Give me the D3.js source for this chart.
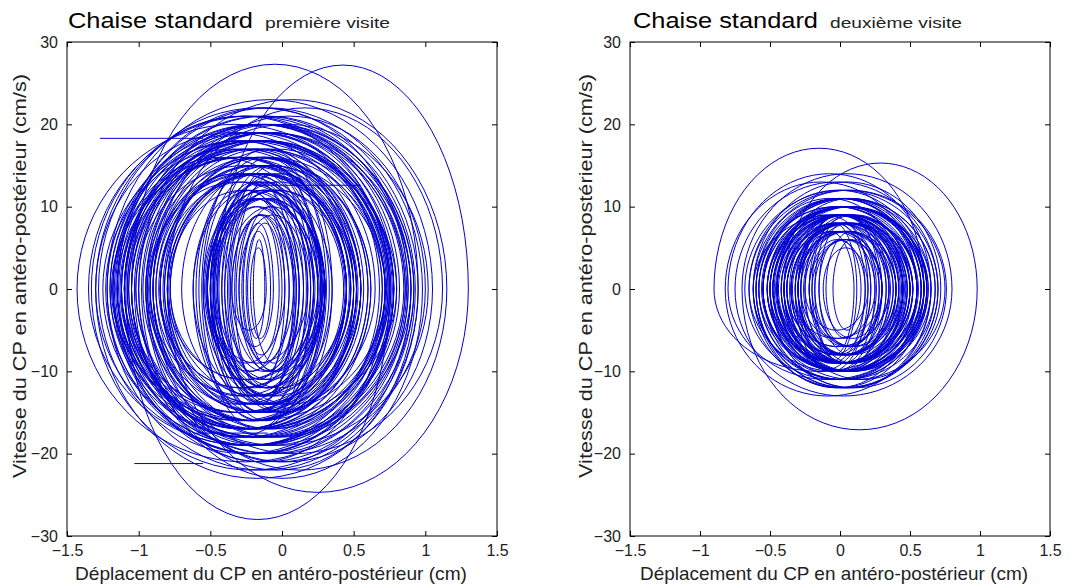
<!DOCTYPE html>
<html><head><meta charset="utf-8">
<script src="https://cdn.jsdelivr.net/npm/d3@7"></script>
<style>
body{margin:0;background:#fff;}
text{font-family:"Liberation Sans",Arial,sans-serif;}
</style></head>
<body><svg id="c" width="1078" height="588"></svg>
<script>
// ---------- data ----------
const xTicks = [-1.5,-1,-0.5,0,0.5,1,1.5];
const yTicks = [-30,-20,-10,0,10,20,30];
const titles = ["Chaise standard","Chaise standard"];
const subtitles = ["première visite","deuxième visite"];
const xLabel = "Déplacement du CP en antéro-postérieur (cm)";
const yLabel = "Vitesse du CP en antéro-postérieur (cm/s)";

// left panel: successive turning positions (cm), alternating left/right extreme
const leftTurnX = [
-1.10,0.52,-0.92,0.75,-1.15,0.88,-1.05,0.95,-1.30,0.75,-1.09,0.78,-0.90,0.50,-0.50,0.25,
-0.48,0.10,-0.30,-0.02,-0.27,-0.06,-0.32,0.02,-0.52,0.27,-0.85,0.48,-1.12,0.72,-1.20,0.85,
-1.35,0.92,-1.43,0.77,-1.18,0.55,-1.08,0.45,-0.92,0.28,-0.80,0.50,-0.45,1.30,-0.80,1.12,
-0.95,1.02,-1.07,0.90,-1.15,0.80,-1.19,0.72,-0.94,0.52,-0.52,0.28,-0.45,0.12,-0.25,-0.08,
-0.22,-0.11,-0.35,0.08,-0.54,0.30,-0.88,0.55,-1.12,0.76,-1.28,0.95,-1.22,1.05,-1.00,1.15,
-0.90,1.00,-1.10,0.86,-1.25,0.72,-1.02,0.50,-0.82,0.45,-0.78,0.62,-0.50,0.43,-0.47,0.22,
-0.30,0.18,-0.53,0.30,-0.86,0.55,-1.10,0.75,-1.18,0.87,-1.05,0.72,-0.85,0.45,-0.62,0.22,
-0.48,0.29,-0.80,0.48,-1.07,0.70,-1.20,0.78,-1.15,0.93,-1.00,0.90,-0.94,0.74,-1.10,0.55,
-0.90,0.28,-0.55,0.15,-0.40,0.25,-0.78,0.52,-1.13,0.78,-1.30,0.60,-1.05,0.45,-0.85,0.30,
-0.50,0.45,-0.92,0.72,-1.03,0.50,-0.95,0.62,-1.15,0.88,-1.22,0.70,-0.88,0.35,-0.52,0.20,
-0.35,0.05,-0.28,0.12,-0.50,0.47,-0.82,0.74,-1.08,0.92,-1.16,0.98,-0.98,0.80,-1.23,0.53,
-0.93,0.30,-0.49,0.45,-0.83,0.57,-1.12,0.76,-1.05,0.86,-0.90,0.65,-1.18,0.48,-0.79,0.26,
-0.46,0.09,-0.20,-0.12,-0.24,0.00,-0.42,0.30,-0.70,0.55,-0.97,0.73,-1.14,0.90,-1.33,0.82,
-1.10,0.52,-0.80,0.44,-0.53,0.23,-0.85,0.60,-1.02,0.78,-1.17,0.30,-0.55,0.18,-0.42,0.08,
-0.38,0.25,-0.58,0.33,-0.47,0.15,-0.36,0.02,-0.33,0.22,-0.60,0.28,-0.50,0.12,-0.40,0.20,
-0.56,0.35,-0.62,0.10,-0.44,0.27,-0.52,0.05,-0.37,0.17,-0.48,0.31,-0.95,0.68,-1.12];
// left panel: peak speed (cm/s) of each half-cycle between consecutive turning positions
const leftPeakV = [
18,16,19,17,22,20,27.3,23,21,28,20,18,17,15,13,12,
11,10,9,8,8,7,9,9,12,12,15,15,18,17,20,19,
21,21,20,20,18,17,16,16,14,14,14,15,27.2,24.7,22,20,
20,19,19,18,17,16,16,15,14,14,12,11,10,10,7,6,
5,5,9,10,12,13,16,17,19,20,22,22,23,21,23,22,
21,20,20,19,18,17,15,14,14,13,15,14,12,12,11,10,
9,9,11,12,15,15,18,18,20,19,18,17,15,14,12,11,
11,11,14,15,17,18,19,20,21,22,20,21,18,17,17,16,
14,13,11,10,10,11,14,16,18,19,19,17,16,14,13,12,
12,13,16,21,17,16,16,18,21,20,19,17,14,13,11,10,
9,9,10,12,14,15,17,18,20,21,22,23,19,19,17,16,
13,14,13,15,16,17,18,19,19,18,17,16,16,14,12,12,
10,9,6,6,8,10,12,13,15,16,18,19,20,22,21,18,
16,15,14,13,11,14,16,17,18,20,16,15,14,13,13,14,
15,16,16,14,13,12,11,12,14,15,15,16,13,13,14,17,
17,16,12,14,15,15,12,11,13,15,16,18,19,19];
// left panel: straight jumps in the record [x start, x end, velocity]
const leftJumpX0 = [-1.27,-1.03,-0.60,-0.20];
const leftJumpX1 = [-0.55,-0.55,-0.10,0.55];
const leftJumpV  = [18.3,-21.2,-17.5,12.6];

// right panel
const rightTurnX = [
-0.50,0.55,-0.45,0.60,-0.90,0.60,-0.62,0.72,-0.40,0.98,-0.70,0.80,-0.75,0.70,-0.65,0.75,
-0.55,0.65,-0.48,0.55,-0.40,0.45,-0.30,0.40,-0.20,0.30,-0.12,0.20,-0.25,0.35,-0.38,0.50,
-0.50,0.62,-0.58,0.58,-0.45,0.48,-0.35,0.42,-0.42,0.55,-0.52,0.63,-0.80,0.65,-0.82,0.55,
-0.60,0.45,-0.45,0.38,-0.30,0.30,-0.18,0.25,-0.28,0.40,-0.40,0.52,-0.48,0.60,-0.55,0.68,
-0.62,0.76,-0.55,0.60,-0.42,0.50,-0.35,0.45,-0.45,0.55,-0.52,0.50,-0.40,0.40,-0.30,0.35,
-0.38,0.47,-0.50,0.58,-0.65,0.62,-0.58,0.52,-0.45,0.45,-0.35,0.52,-0.48,0.62,-0.55,0.55,
-0.42,0.42,-0.32,0.38,-0.22,0.30,-0.35,0.48,-0.52,0.60,-0.68,0.70,-0.60,0.58,-0.45,0.62,
-0.52,0.50,-0.38,0.28,-0.15,0.15,-0.05,0.22,-0.32,0.42,-0.47,0.58,-0.58,0.65,-0.50,0.48,
-0.40,0.36,-0.26,0.44,-0.46,0.56,-0.55,0.63,-0.62,0.52,-0.44,0.40,-0.34,0.30,-0.22,0.18,
-0.10,0.26,-0.30,0.46,-0.48,0.60,-0.56,0.68,-0.60,0.55,-0.50,0.43,-0.38,0.33,-0.28,0.50,
-0.45,0.25,-0.20,0.12,-0.28,0.30,-0.15,0.20,-0.32,0.35,-0.25,0.10,-0.18,0.28,-0.36,0.40,
-0.22,0.18,-0.30,0.33,-0.40,0.45,-0.30,0.22,-0.50];
const rightPeakV = [
10,9,11,10,17.1,12,13,11,15.3,17.1,14,13,13,12,12,11,
10,10,9,9,8,8,7,7,6,6,5,5,7,7,8,9,
10,10,11,10,9,9,8,8,9,9,10,11,14,13,13,12,
11,10,9,8,7,7,6,6,7,8,9,9,10,10,11,11,
12,12,11,10,9,9,8,8,9,10,10,9,8,8,7,7,
8,9,10,10,12,11,10,10,9,9,8,9,10,10,11,10,
9,8,7,7,6,6,8,9,10,11,12,12,11,10,10,10,
9,9,7,7,6,5,6,8,8,10,10,11,11,12,9,10,
8,8,8,9,9,10,10,11,9,9,8,8,7,7,6,6,
7,8,9,10,10,10,11,12,10,10,9,9,8,8,9,9,
9,9,8,9,9,8,8,10,9,9,7,8,9,10,9,9,
8,9,9,10,9,9,8,10];

// ---------- drawing ----------
const svg = d3.select("#c");
const panels = [
  {x0:67, x1:497, turns:leftTurnX, peaks:leftPeakV, jx0:leftJumpX0, jx1:leftJumpX1, jv:leftJumpV,
   tx:68, tw:185, sx:265, sw:125, sub:0, ylx:26, xlc:271, xlw:392},
  {x0:630, x1:1050, turns:rightTurnX, peaks:rightPeakV, jx0:[], jx1:[], jv:[],
   tx:633, tw:185, sx:830, sw:132, sub:1, ylx:592, xlc:834, xlw:388}
];
const yTop = 42, yBottom = 536, tickLen = 5;
const lineColor = "#0000d0";

panels.forEach((p,i)=>{
  const x = d3.scaleLinear().domain([-1.5,1.5]).range([p.x0,p.x1]);
  const y = d3.scaleLinear().domain([-30,30]).range([yBottom,yTop]);
  const g = svg.append("g");

  const pts = [];
  const nHalf = Math.min(p.turns.length-1, p.peaks.length);
  for(let k=0;k<nHalf;k++){
    const a=p.turns[k], b=p.turns[k+1];
    const v = p.peaks[k]*(b>a?1:-1);
    const n=40;
    for(let j=(k===0?0:1);j<=n;j++){
      const t=Math.PI*j/n;
      pts.push([(a+b)/2-(b-a)/2*Math.cos(t), v*Math.sin(t)]);
    }
  }
  const line = d3.line().x(d=>x(d[0])).y(d=>y(d[1]));
  g.append("path").attr("d",line(pts)).attr("fill","none")
    .attr("stroke",lineColor).attr("stroke-width",1);
  p.jv.forEach((v,k)=>{
    g.append("path").attr("d",line([[p.jx0[k],v],[p.jx1[k],v]]))
     .attr("fill","none").attr("stroke",lineColor).attr("stroke-width",1);
  });

  g.append("rect").attr("x",p.x0).attr("y",yTop).attr("width",p.x1-p.x0).attr("height",yBottom-yTop)
    .attr("fill","none").attr("stroke","#000").attr("stroke-width",1);

  const ax = (gen,tr)=>{ const a=g.append("g").attr("transform",tr).call(gen);
    a.select(".domain").remove(); a.selectAll("text").attr("fill","#222").style("font-size","16px");
    a.selectAll("line").attr("stroke","#000"); return a; };
  ax(d3.axisBottom(x).tickValues(xTicks).tickSize(-tickLen).tickPadding(9).tickFormat(d3.format("")), `translate(0,${yBottom})`);
  ax(d3.axisTop(x).tickValues(xTicks).tickSize(-tickLen).tickFormat(""), `translate(0,${yTop})`);
  ax(d3.axisLeft(y).tickValues(yTicks).tickSize(-tickLen).tickPadding(9).tickFormat(d3.format("")), `translate(${p.x0},0)`);
  ax(d3.axisRight(y).tickValues(yTicks).tickSize(-tickLen).tickFormat(""), `translate(${p.x1},0)`);

  svg.append("text").attr("x",p.tx).attr("y",28).attr("fill","#000").style("font-size","22px")
    .attr("textLength",p.tw).attr("lengthAdjust","spacingAndGlyphs").text(titles[i]);
  svg.append("text").attr("x",p.sx).attr("y",28).attr("fill","#222").style("font-size","15px")
    .attr("textLength",p.sw).attr("lengthAdjust","spacingAndGlyphs").text(subtitles[p.sub]);

  svg.append("text").attr("x",p.xlc-p.xlw/2).attr("y",580)
    .style("font-size","19px").attr("fill","#222")
    .attr("textLength",p.xlw).attr("lengthAdjust","spacingAndGlyphs").text(xLabel);
  svg.append("text").attr("transform",`translate(${p.ylx},${276+202}) rotate(-90)`)
    .style("font-size","19px").attr("fill","#222")
    .attr("textLength",404).attr("lengthAdjust","spacingAndGlyphs").text(yLabel);
});
</script></body></html>
